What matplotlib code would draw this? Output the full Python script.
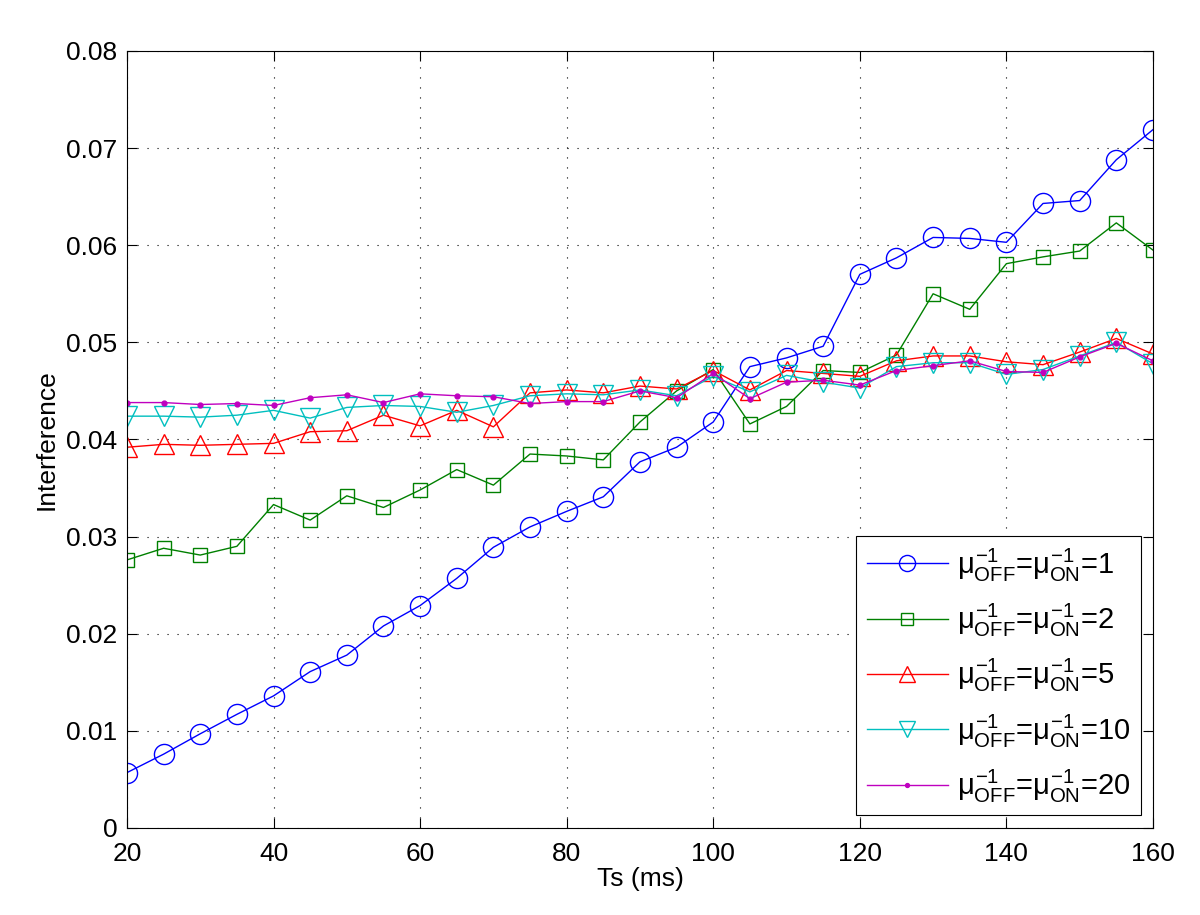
import matplotlib
matplotlib.use('Agg')
import matplotlib.pyplot as plt
from matplotlib.ticker import FuncFormatter

plt.rcParams['font.family'] = ['Liberation Sans', 'DejaVu Sans']
plt.rcParams['mathtext.fontset'] = 'custom'
plt.rcParams['mathtext.rm'] = 'Liberation Sans'
plt.rcParams['mathtext.it'] = 'Liberation Sans'
plt.rcParams['mathtext.bf'] = 'Liberation Sans:bold'

ts = [20, 25, 30, 35, 40, 45, 50, 55, 60, 65, 70, 75, 80, 85, 90, 95, 100,
      105, 110, 115, 120, 125, 130, 135, 140, 145, 150, 155, 160]

mu1 = [0.0057, 0.0076, 0.0097, 0.0117, 0.0136, 0.0161, 0.0178, 0.0208, 0.0229,
       0.0257, 0.0289, 0.0310, 0.0326, 0.0341, 0.0377, 0.0392, 0.0418, 0.0475,
       0.0484, 0.0496, 0.0570, 0.0587, 0.0608, 0.0607, 0.0603, 0.0643, 0.0646,
       0.0688, 0.0719]
mu2 = [0.0276, 0.0288, 0.0281, 0.0290, 0.0333, 0.0317, 0.0342, 0.0330, 0.0348,
       0.0369, 0.0353, 0.0385, 0.0383, 0.0379, 0.0418, 0.0450, 0.0472, 0.0416,
       0.0434, 0.0471, 0.0469, 0.0487, 0.0550, 0.0534, 0.0581, 0.0588, 0.0594,
       0.0623, 0.0595]
mu5 = [0.0392, 0.0395, 0.0394, 0.0395, 0.0396, 0.0408, 0.0409, 0.0425, 0.0414,
       0.0430, 0.0413, 0.0448, 0.0451, 0.0448, 0.0455, 0.0452, 0.0471, 0.0451,
       0.0471, 0.0468, 0.0465, 0.0481, 0.0486, 0.0486, 0.0480, 0.0477, 0.0490,
       0.0504, 0.0488]
mu10 = [0.0424, 0.0424, 0.0423, 0.0425, 0.0430, 0.0422, 0.0433, 0.0435, 0.0434,
        0.0428, 0.0435, 0.0445, 0.0447, 0.0446, 0.0451, 0.0445, 0.0465, 0.0449,
        0.0466, 0.0459, 0.0453, 0.0475, 0.0479, 0.0479, 0.0467, 0.0472, 0.0486,
        0.0500, 0.0478]
mu20 = [0.0438, 0.0438, 0.0436, 0.0437, 0.0435, 0.0443, 0.0446, 0.0438, 0.0447,
        0.0445, 0.0444, 0.0437, 0.0439, 0.0439, 0.0450, 0.0443, 0.0468, 0.0442,
        0.0459, 0.0461, 0.0456, 0.0471, 0.0476, 0.0481, 0.0470, 0.0469, 0.0485,
        0.0499, 0.0481]

names = ['1', '2', '5', '10', '20']
series = [mu1, mu2, mu5, mu10, mu20]
colors = ['#0000ff', '#008000', '#ff0000', '#00bfbf', '#bf00bf']
markers = ['o', 's', '^', 'v', '.']
msizes = [14.5, 10.5, 14.5, 14.5, 7]

fig = plt.figure(figsize=(12, 9.15), dpi=100)
ax = fig.add_axes([0.1058, 0.0951, 0.855, 0.8492])

for vals, n, c, m, ms in zip(series, names, colors, markers, msizes):
    lab = r'$\mu^{-1}_{\mathrm{OFF}}$=$\mu^{-1}_{\mathrm{ON}}$=' + n
    ax.plot(ts, vals, color=c, marker=m, markersize=ms, markerfacecolor='none' if m != '.' else c,
            markeredgecolor=c, markeredgewidth=1.0, linewidth=1.0, label=lab)

ax.set_xlim(20, 160)
ax.set_ylim(0, 0.08)
ax.set_xticks(range(20, 161, 20))
ax.set_yticks([i / 100 for i in range(9)])
ax.yaxis.set_major_formatter(FuncFormatter(lambda v, p: '0' if v == 0 else '%g' % v))
ax.tick_params(direction='in', top=True, right=True, labelsize=19, length=7, width=0.8)
ax.tick_params(axis='x', pad=10)
ax.tick_params(axis='y', pad=7)
ax.grid(True, linestyle=(0, (1, 8)), color='black', linewidth=0.8)
for s in ax.spines.values():
    s.set_linewidth(0.8)

ax.set_xlabel('Ts (ms)', fontsize=19, labelpad=1)
ax.set_ylabel('Interference', fontsize=19, labelpad=5)

leg = ax.legend(loc='lower right', bbox_to_anchor=(0.9883, 0.0167), fontsize=21,
                fancybox=False, framealpha=1, edgecolor='black', handlelength=2.8,
                labelspacing=0.62, borderpad=0.35, handletextpad=0.3, borderaxespad=0)
leg.get_frame().set_linewidth(0.8)
for h in leg.legend_handles:
    h.set_markersize(h.get_markersize() * 0.8)

fig.savefig('out.png', dpi=100)
